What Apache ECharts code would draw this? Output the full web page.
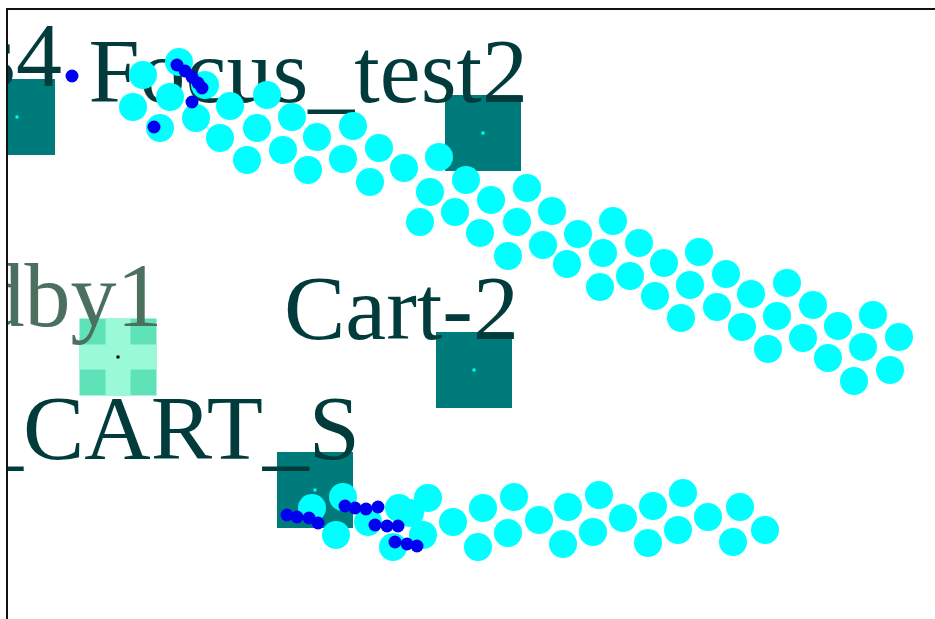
<!DOCTYPE html>
<html>
<head>
<meta charset="utf-8">
<title>Map view</title>
<script src="https://cdn.jsdelivr.net/npm/echarts@6/dist/echarts.min.js"></script>
<style>
html, body { margin: 0; padding: 0; overflow: hidden; background: #fff; }
#map { position: absolute; left: 6px; top: 8px; width: 929px; height: 611px;
       border-left: 2px solid #111; border-top: 2px solid #111; }
</style>
</head>
<body>
<div id="map"></div>
<script type="text/javascript">
// stations (map coords, y grows downward)
var stationNames = ['Focus4', 'Focus_test2', 'Standby1', 'Cart-2', 'TO_CART_S'];
var stationX = [17, 483, 118, 474, 315];
var stationY = [117, 133, 357, 370, 490];
var stationKind = ['work', 'work', 'standby', 'work', 'work'];

// robot footprints
var trackUpper = [
  [143,75],[179,62],[133,107],[170,97],[205,85],[160,128],[196,118],[230,106],[267,95],
  [220,138],[257,128],[292,117],[247,160],[283,150],[317,137],[353,126],[308,170],[343,159],
  [379,148],[370,182],[404,168],[439,157],[430,192],[466,180],[420,222],[455,212],[491,200],
  [527,188],[480,233],[517,222],[552,211],[508,256],[543,245],[578,234],[613,221],[567,264],
  [603,253],[639,243],[600,287],[630,276],[664,263],[699,252],[655,296],[690,285],[726,274],
  [681,318],[717,307],[751,294],[787,283],[742,327],[777,316],[813,305],[768,349],[803,338],
  [838,326],[873,315],[828,358],[863,347],[899,337],[854,381],[890,370]
];
var trackLower = [
  [312,508],[343,497],[336,535],[368,522],[399,508],[410,513],[393,547],[423,535],[428,498],
  [453,522],[478,547],[483,508],[508,533],[514,497],[539,520],[568,507],[563,544],[599,495],
  [593,532],[623,518],[653,506],[648,543],[683,493],[678,530],[708,517],[740,507],[733,542],
  [765,530]
];

// path points
var pathPoints = [
  [72,76],[177,65],[185,71],[192,77],[198,83],[202,88],[192,102],[154,127],
  [287,515],[297,517],[309,518],[318,523],[345,506],[355,508],[366,509],[378,507],
  [375,525],[387,526],[398,526],[395,542],[407,544],[417,546]
];

var workStations = [], standbyStations = [];
for (var i = 0; i < stationNames.length; i++) {
  var item = { name: stationNames[i], value: [stationX[i], stationY[i]] };
  if (stationKind[i] == 'standby') standbyStations.push(item);
  else workStations.push(item);
}

var labelStyle = {
  show: true,
  formatter: '{b}',
  fontFamily: 'Liberation Serif',
  fontSize: 92,
  align: 'right',
  verticalAlign: 'middle',
  position: [83, -17]
};

var chart = echarts.init(document.getElementById('map'));
chart.setOption({
  animation: false,
  grid: { left: 0, top: 0, right: 0, bottom: 0 },
  xAxis: { type: 'value', min: 8, max: 937, show: false },
  yAxis: { type: 'value', min: 10, max: 621, inverse: true, show: false },
  series: [
    {
      type: 'scatter', z: 1, symbol: 'rect', symbolSize: 76,
      itemStyle: { color: '#007b7b', opacity: 1 },
      label: Object.assign({}, labelStyle, { color: '#023b3b' }),
      data: workStations
    },
    {
      type: 'scatter', z: 1, symbol: 'rect', symbolSize: 77,
      itemStyle: { color: '#60e2b8', opacity: 1 },
      label: Object.assign({}, labelStyle, { color: '#4b705f' }),
      data: standbyStations
    },
    {
      type: 'scatter', z: 1, symbol: 'rect', symbolSize: [77, 25], silent: true,
      itemStyle: { color: '#9af9d6', opacity: 1 },
      data: standbyStations.map(function (d) { return d.value; })
    },
    {
      type: 'scatter', z: 1, symbol: 'rect', symbolSize: [25, 77], silent: true,
      itemStyle: { color: '#9af9d6', opacity: 1 },
      data: standbyStations.map(function (d) { return d.value; })
    },
    {
      type: 'scatter', z: 1, symbol: 'rect', symbolSize: 3,
      itemStyle: { color: '#00ffff', opacity: 1 },
      data: workStations.map(function (d) { return d.value; })
    },
    {
      type: 'scatter', z: 1, symbol: 'rect', symbolSize: 3,
      itemStyle: { color: '#000', opacity: 1 },
      data: standbyStations.map(function (d) { return d.value; })
    },
    {
      type: 'scatter', z: 2, symbolSize: 28,
      itemStyle: { color: '#00ffff', opacity: 1 },
      data: trackUpper.concat(trackLower)
    },
    {
      type: 'scatter', z: 3, symbolSize: 13,
      itemStyle: { color: '#0000f0', opacity: 1 },
      data: pathPoints
    }
  ]
});
</script>
</body>
</html>
